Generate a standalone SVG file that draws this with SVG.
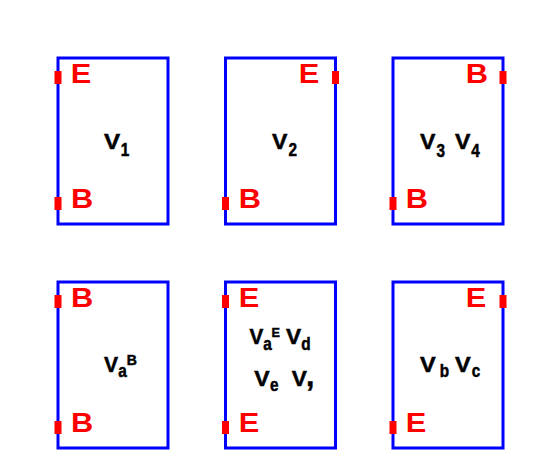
<svg xmlns="http://www.w3.org/2000/svg" width="545" height="453" viewBox="0 0 545 453">
<style>
.box{fill:none;stroke:#0000ff;stroke-width:3}
.pin{fill:#ff0000}
.pl{font-family:"Liberation Sans",Arial,sans-serif;font-weight:bold;font-size:27px;fill:#ff0000}
.lab text{font-family:"Liberation Sans",Arial,sans-serif;font-weight:bold;fill:#000;stroke:#000;stroke-width:0.5}
.v{font-size:22px}
.s{font-size:18px}
.p{font-size:14px}
.c{font-size:30px}
</style>
<rect width="545" height="453" fill="#fff"/>
<g id="connectors"></g>
<g id="n1">
<rect class="box" x="58" y="58" width="110" height="166"/>
<rect class="pin" x="54.5" y="71" width="7" height="13"/>
<rect class="pin" x="54.5" y="197" width="7" height="13"/>
<text class="pl" transform="translate(70.8,83) scale(1.14,1)">E</text>
<text class="pl" transform="translate(71,208) scale(1.14,1)">B</text>
<g class="lab"><text class="v" transform="translate(104,148.5) scale(1.1,1)">V</text><text class="s" transform="translate(120.8,156) scale(0.85,1)">1</text></g>
</g>
<g id="n2">
<rect class="box" x="225.5" y="58" width="110" height="166"/>
<rect class="pin" x="332" y="71" width="7" height="13"/>
<rect class="pin" x="222" y="197" width="7" height="13"/>
<text class="pl" transform="translate(298.8,83) scale(1.14,1)">E</text>
<text class="pl" transform="translate(238.7,208) scale(1.14,1)">B</text>
<g class="lab"><text class="v" transform="translate(272,148.5) scale(1.05,1)">V</text><text class="s" transform="translate(288.5,156) scale(0.85,1)">2</text></g>
</g>
<g id="n3">
<rect class="box" x="393" y="58" width="110" height="166"/>
<rect class="pin" x="499.5" y="71" width="7" height="13"/>
<rect class="pin" x="389.5" y="197" width="7" height="13"/>
<text class="pl" transform="translate(465.8,83) scale(1.14,1)">B</text>
<text class="pl" transform="translate(405.8,208) scale(1.14,1)">B</text>
<g class="lab"><text class="v" transform="translate(420,148.5) scale(1.05,1)">V</text><text class="s" transform="translate(436.4,156.5) scale(0.85,1)">3</text><text class="v" transform="translate(455,148.5) scale(1.05,1)">V</text><text class="s" transform="translate(471.2,156.5) scale(0.85,1)">4</text></g>
</g>
<g id="n4">
<rect class="box" x="58" y="282" width="110" height="166"/>
<rect class="pin" x="54.5" y="295" width="7" height="13"/>
<rect class="pin" x="54.5" y="421" width="7" height="13"/>
<text class="pl" transform="translate(71,307) scale(1.14,1)">B</text>
<text class="pl" transform="translate(71,432) scale(1.14,1)">B</text>
<g class="lab"><text class="v" transform="translate(104,372) scale(0.96,1)">V</text><text class="s" transform="translate(118.2,376.8) scale(0.85,1)">a</text><text class="p" transform="translate(126.8,365)">B</text></g>
</g>
<g id="n5">
<rect class="box" x="225.5" y="282" width="110" height="166"/>
<rect class="pin" x="222" y="295" width="7" height="13"/>
<rect class="pin" x="222" y="421" width="7" height="13"/>
<text class="pl" transform="translate(238.7,307) scale(1.14,1)">E</text>
<text class="pl" transform="translate(238.7,432) scale(1.14,1)">E</text>
<g class="lab"><text class="v" transform="translate(249.5,344) scale(0.94,1)">V</text><text class="s" transform="translate(263.3,349.8) scale(0.85,1)">a</text><text class="p" transform="translate(271.6,337.2) scale(0.9,0.88)">E</text><text class="v" transform="translate(286,344) scale(1.03,1)">V</text><text class="s" transform="translate(301.2,350) scale(0.85,1)">d</text></g>
<g class="lab"><text class="v" transform="translate(254.3,386) scale(1.05,1)">V</text><text class="s" transform="translate(270,391) scale(0.85,1)">e</text><text class="v" transform="translate(291.7,386) scale(1.03,1)">V</text><text class="c" transform="translate(306,386)">,</text></g>
</g>
<g id="n6">
<rect class="box" x="393" y="282" width="110" height="166"/>
<rect class="pin" x="499.5" y="295" width="7" height="13"/>
<rect class="pin" x="389.5" y="421" width="7" height="13"/>
<text class="pl" transform="translate(465.8,307) scale(1.14,1)">E</text>
<text class="pl" transform="translate(405.8,432) scale(1.14,1)">E</text>
<g class="lab"><text class="v" transform="translate(420,371.5) scale(1.07,1)">V</text><text class="s" transform="translate(439.7,376.8) scale(0.85,1)">b</text><text class="v" transform="translate(455,371.5) scale(1.07,1)">V</text><text class="s" transform="translate(471.7,377) scale(0.85,1)">c</text></g>
</g>
</svg>
